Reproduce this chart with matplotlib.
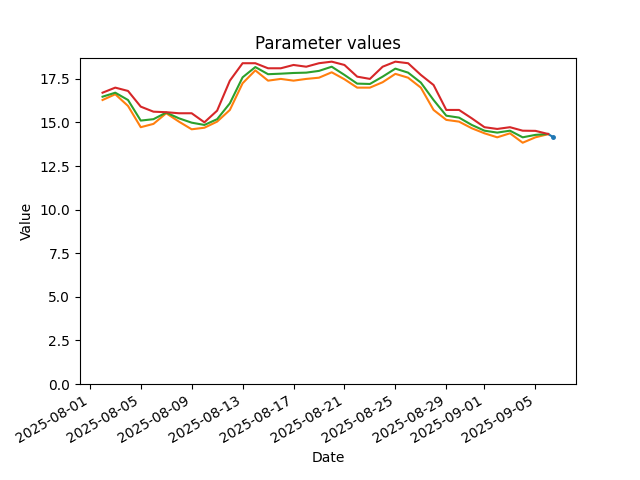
import numpy as np
import pandas as pd
import matplotlib
matplotlib.use('Agg')
import matplotlib.pyplot as plt

dates = pd.date_range('2025-08-02', '2025-09-06', freq='D')

# lower / mid / upper estimates
low = [16.29, 16.62, 15.95, 14.73, 14.92, 15.53, 15.05, 14.61, 14.70, 15.05,
       15.72, 17.25, 17.99, 17.40, 17.50, 17.40, 17.50, 17.57, 17.88, 17.48,
       17.00, 17.00, 17.31, 17.79, 17.57, 17.00, 15.72, 15.15, 15.05, 14.67,
       14.38, 14.15, 14.38, 13.84, 14.15, 14.33]
mid = [16.48, 16.71, 16.29, 15.11, 15.19, 15.57, 15.24, 14.99, 14.86, 15.19,
       16.10, 17.59, 18.18, 17.77, 17.80, 17.84, 17.86, 17.96, 18.20, 17.73,
       17.23, 17.21, 17.63, 18.09, 17.86, 17.29, 16.29, 15.39, 15.28, 14.86,
       14.53, 14.42, 14.53, 14.15, 14.29, 14.34]
high = [16.71, 17.00, 16.81, 15.91, 15.62, 15.59, 15.53, 15.53, 15.01, 15.68,
        17.40, 18.40, 18.40, 18.11, 18.11, 18.30, 18.20, 18.40, 18.49, 18.30,
        17.63, 17.50, 18.20, 18.49, 18.40, 17.73, 17.15, 15.72, 15.72, 15.24,
        14.73, 14.63, 14.73, 14.53, 14.52, 14.34]

# short latest segment
latest_dates = pd.to_datetime(['2025-09-06 00:00', '2025-09-06 10:00'])
latest = [14.34, 14.15]

fig, ax = plt.subplots(figsize=(6.4, 4.8), dpi=100)
ax.plot(latest_dates, latest, marker='o', markersize=2.5, markevery=[1])
ax.plot(dates, low)
ax.plot(dates, mid)
ax.plot(dates, high)
ax.set_ylim(bottom=0)
ax.set_title('Parameter values')
ax.set_xlabel('Date')
ax.set_ylabel('Value')
fig.autofmt_xdate()
plt.savefig('out.png')
